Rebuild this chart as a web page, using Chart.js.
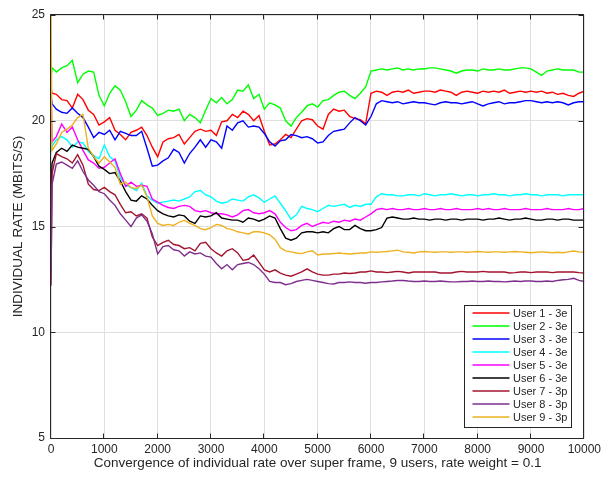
<!DOCTYPE html>
<html>
<head>
<meta charset="utf-8">
<script src="https://cdn.jsdelivr.net/npm/chart.js@4.4.0/dist/chart.umd.min.js"></script>
<style>
  html, body { margin: 0; padding: 0; background: #ffffff; }
  #wrap { width: 605px; height: 477px; }
</style>
</head>
<body>
<div id="wrap"><canvas id="c" width="605" height="477"></canvas></div>
<script>
// Super frame index at which each rate sample is taken
const frames = [0, 20,
  100, 200, 300, 400, 500, 600, 700, 800, 900, 1000,
  1100, 1200, 1300, 1400, 1500, 1600, 1700, 1800, 1900, 2000,
  2100, 2200, 2300, 2400, 2500, 2600, 2700, 2800, 2900, 3000,
  3100, 3200, 3300, 3400, 3500, 3600, 3700, 3800, 3900, 4000,
  4100, 4200, 4300, 4400, 4500, 4600, 4700, 4800, 4900, 5000,
  5100, 5200, 5300, 5400, 5500, 5600, 5700, 5800, 5900, 6000,
  6100, 6200, 6300, 6400, 6500, 6600, 6700, 6800, 6900, 7000,
  7100, 7200, 7300, 7400, 7500, 7600, 7700, 7800, 7900, 8000,
  8100, 8200, 8300, 8400, 8500, 8600, 8700, 8800, 8900, 9000,
  9100, 9200, 9300, 9400, 9500, 9600, 9700, 9800, 9900, 10000];

// Individual rate per user (Mbit/s)
const user1 = [21.5, 21.3,
  21.25, 21.0, 20.95, 20.6, 21.25, 21.0, 20.5, 20.3, 19.8, 19.95,
  20.15, 19.55, 19.35, 19.1, 19.45, 19.55, 19.7, 19.3, 18.75, 18.3,
  19.0, 19.15, 19.2, 19.35, 18.9, 19.2, 19.5, 19.6, 19.5, 19.55,
  19.3, 19.95, 20.0, 20.3, 20.15, 20.45, 20.3, 20.0, 20.25, 19.5,
  18.85, 18.9, 19.1, 19.35, 19.2, 19.6, 20.0, 20.1, 20.05, 19.75,
  19.6, 20.3, 20.55, 20.45, 20.5, 20.2, 20.1, 20.05, 19.85, 21.3,
  21.4, 21.35, 21.2, 21.35, 21.4, 21.35, 21.45, 21.3, 21.35, 21.4,
  21.4, 21.35, 21.45, 21.4, 21.35, 21.2, 21.35, 21.4, 21.35, 21.3,
  21.4, 21.35, 21.4, 21.35, 21.45, 21.3, 21.35, 21.4, 21.35, 21.4,
  21.35, 21.4, 21.3, 21.35, 21.25, 21.3, 21.2, 21.15, 21.3, 21.4];

const user2 = [22.0, 22.5,
  22.3, 22.5, 22.6, 22.85, 21.8, 22.2, 22.35, 22.3, 21.2, 20.7,
  21.3, 21.65, 21.45, 20.9, 20.2, 20.5, 20.95, 20.75, 20.6, 20.25,
  20.35, 20.5, 20.45, 20.55, 20.0, 20.3, 20.15, 19.9, 20.5, 21.05,
  20.85, 21.1, 20.8, 21.0, 21.45, 21.4, 21.7, 21.05, 21.25, 20.55,
  20.85, 20.75, 20.6, 20.0, 19.75, 20.15, 20.4, 20.7, 20.8, 20.65,
  20.95, 21.0, 21.2, 21.35, 21.4, 21.2, 21.05, 21.3, 21.6, 22.35,
  22.4, 22.45, 22.4, 22.45, 22.5, 22.4, 22.45, 22.4, 22.45, 22.45,
  22.5, 22.5, 22.45, 22.4, 22.35, 22.25, 22.35, 22.4, 22.4, 22.35,
  22.45, 22.4, 22.4, 22.45, 22.4, 22.4, 22.45, 22.5, 22.5, 22.45,
  22.3, 22.15, 22.35, 22.4, 22.45, 22.4, 22.4, 22.4, 22.3, 22.3];

const user3 = [21.2, 20.8,
  20.55, 20.4, 20.35, 20.6, 20.35, 20.15, 19.7, 19.2, 19.45, 19.35,
  19.55, 19.1, 19.5, 19.4, 19.3, 19.3, 19.5, 18.7, 17.85, 17.9,
  18.1, 18.25, 18.65, 18.5, 18.0, 18.45, 18.75, 19.1, 18.75, 19.1,
  19.0, 18.7, 19.75, 19.55, 19.9, 20.0, 19.7, 19.75, 19.7, 19.4,
  19.0, 18.8, 19.05, 19.1, 19.35, 19.3, 19.2, 19.25, 19.15, 18.95,
  19.0, 19.3, 19.5, 19.55, 19.6, 19.9, 20.15, 20.0, 19.8, 20.2,
  20.8, 20.95, 20.9, 20.85, 20.9, 20.8, 20.85, 20.9, 20.85, 20.85,
  20.8, 20.75, 20.85, 20.9, 20.85, 20.85, 20.8, 20.85, 20.9, 20.8,
  20.7, 20.8, 20.85, 20.9, 20.8, 20.85, 20.85, 20.9, 20.95, 20.95,
  20.9, 20.85, 20.9, 20.85, 20.9, 20.85, 20.75, 20.85, 20.9, 20.9];

const user4 = [18.5, 18.8,
  19.1, 19.25, 19.1, 18.75, 19.0, 18.95, 18.55, 18.35, 18.2, 18.85,
  18.3, 18.1, 17.3, 16.95, 16.85, 16.7, 17.05, 16.45, 16.25, 16.1,
  16.15, 16.2, 16.25, 16.2, 16.3, 16.4, 16.65, 16.7, 16.5, 16.4,
  16.2, 16.1, 16.15, 16.3, 16.25, 16.2, 16.4, 16.5, 16.35, 16.15,
  16.3, 16.45, 16.1, 15.75, 15.35, 15.55, 15.95, 15.85, 15.8, 15.7,
  15.85, 16.0, 15.95, 16.0, 16.05, 15.9, 16.0, 15.95, 16.05, 16.05,
  16.4, 16.55, 16.5, 16.5, 16.45, 16.45, 16.5, 16.5, 16.45, 16.55,
  16.5, 16.45, 16.5, 16.5, 16.55, 16.5, 16.45, 16.5, 16.5, 16.45,
  16.5, 16.5, 16.55, 16.5, 16.5, 16.45, 16.5, 16.5, 16.55, 16.5,
  16.5, 16.45, 16.5, 16.5, 16.5, 16.45, 16.5, 16.5, 16.5, 16.5];

const user5 = [21.3, 19.0,
  19.25, 19.85, 19.45, 19.7, 19.1, 18.6, 18.15, 18.0, 17.75, 17.8,
  18.0, 18.2, 17.5, 16.9, 17.1, 16.9, 16.95, 16.9, 16.3, 16.15,
  16.0, 15.9, 15.85, 15.95, 16.0, 15.95, 15.75, 15.7, 15.75, 15.65,
  15.6, 15.6, 15.55, 15.45, 15.55, 15.75, 15.8, 15.65, 15.6, 15.65,
  15.75, 15.6, 15.2, 14.95, 14.8, 14.85, 15.05, 15.15, 15.0, 15.1,
  15.2, 15.15, 15.25, 15.2, 15.3, 15.25, 15.35, 15.3, 15.45, 15.6,
  15.8, 15.85, 15.8, 15.85, 15.8, 15.8, 15.85, 15.8, 15.8, 15.85,
  15.8, 15.8, 15.85, 15.8, 15.8, 15.85, 15.8, 15.8, 15.8, 15.85,
  15.8, 15.85, 15.8, 15.8, 15.85, 15.8, 15.8, 15.8, 15.85, 15.8,
  15.8, 15.8, 15.85, 15.8, 15.8, 15.8, 15.85, 15.8, 15.8, 15.85];

const user6 = [16.5, 18.0,
  18.5, 18.7, 18.55, 18.85, 18.75, 18.7, 18.65, 18.3, 17.85, 17.7,
  17.5, 17.55, 17.15, 16.65, 16.25, 16.2, 16.45, 16.3, 16.0, 15.75,
  15.6, 15.5, 15.45, 15.55, 15.5, 15.25, 15.15, 15.5, 15.45, 15.5,
  15.65, 15.4, 15.35, 15.3, 15.3, 15.2, 15.4, 15.35, 15.25, 15.35,
  15.5, 15.4, 14.9, 14.45, 14.35, 14.45, 14.7, 14.75, 14.75, 14.7,
  14.75, 14.7, 14.9, 15.0, 14.85, 14.85, 15.05, 14.9, 14.8, 14.8,
  14.85, 14.95, 15.4, 15.45, 15.4, 15.35, 15.35, 15.4, 15.35, 15.35,
  15.3, 15.35, 15.35, 15.3, 15.35, 15.35, 15.3, 15.35, 15.35, 15.35,
  15.3, 15.35, 15.35, 15.4, 15.35, 15.3, 15.35, 15.35, 15.4, 15.35,
  15.3, 15.3, 15.35, 15.35, 15.3, 15.35, 15.35, 15.3, 15.3, 15.3];

const user7 = [12.2, 17.5,
  18.45, 18.3, 18.2, 18.0, 18.4, 17.9, 17.0, 16.75, 16.7, 16.85,
  16.65, 16.5, 16.05, 15.65, 15.7, 15.5, 15.6, 15.4, 14.5, 14.1,
  14.25, 14.35, 14.15, 14.1, 13.95, 14.0, 13.85, 14.2, 14.25, 13.95,
  13.75, 13.6, 13.85, 13.95, 13.75, 13.4, 13.45, 13.65, 13.3, 12.95,
  12.85, 12.95, 12.8, 12.7, 12.65, 12.75, 12.85, 13.0, 12.85, 12.75,
  12.7, 12.7, 12.75, 12.75, 12.8, 12.78, 12.8, 12.85, 12.85, 12.9,
  12.85, 12.85, 12.82, 12.85, 12.88, 12.85, 12.8, 12.85, 12.85, 12.85,
  12.85, 12.85, 12.8, 12.8, 12.8, 12.85, 12.88, 12.85, 12.85, 12.85,
  12.88, 12.85, 12.85, 12.85, 12.85, 12.8, 12.82, 12.85, 12.85, 12.82,
  12.85, 12.85, 12.85, 12.82, 12.85, 12.85, 12.85, 12.85, 12.82, 12.8];

const user8 = [12.5, 17.0,
  17.95, 18.05, 17.9, 17.75, 18.1, 17.6, 17.2, 16.95, 16.65, 16.55,
  16.25, 16.0, 15.6, 15.3, 15.0, 15.4, 15.55, 15.25, 14.65, 13.7,
  14.05, 14.1, 13.9, 13.85, 13.6, 13.8, 13.7, 13.75, 13.6, 13.55,
  13.25, 13.0, 13.2, 12.95, 13.2, 13.25, 13.3, 13.2, 13.0, 12.75,
  12.4, 12.35, 12.35, 12.25, 12.3, 12.4, 12.45, 12.5, 12.45, 12.4,
  12.35, 12.3, 12.28, 12.35, 12.35, 12.38, 12.35, 12.35, 12.32, 12.35,
  12.35, 12.38, 12.4, 12.42, 12.45, 12.45, 12.42, 12.4, 12.4, 12.42,
  12.4, 12.4, 12.42, 12.4, 12.38, 12.38, 12.4, 12.4, 12.42, 12.4,
  12.4, 12.42, 12.4, 12.4, 12.38, 12.4, 12.42, 12.4, 12.42, 12.42,
  12.4, 12.4, 12.42, 12.4, 12.45, 12.48, 12.5, 12.55, 12.45, 12.4];

const user9 = [25.0, 18.6,
  18.9, 19.45, 19.6, 19.8, 20.15, 20.3, 18.7, 18.3, 18.0, 18.3,
  18.05, 17.8, 17.0, 17.1, 16.85, 16.8, 16.95, 16.4, 15.5, 15.15,
  15.05, 15.1, 15.05, 15.2, 15.3, 15.15, 15.05, 14.9, 14.85, 14.95,
  15.1, 15.05, 14.9, 14.85, 14.75, 14.7, 14.65, 14.75, 14.75, 14.7,
  14.6, 14.4, 14.0, 13.85, 13.8, 13.75, 13.72, 13.8, 13.85, 13.65,
  13.7, 13.7, 13.72, 13.75, 13.72, 13.7, 13.72, 13.75, 13.75, 13.8,
  13.78, 13.8, 13.82, 13.85, 13.88, 13.8, 13.78, 13.75, 13.8, 13.82,
  13.8, 13.78, 13.8, 13.8, 13.78, 13.8, 13.8, 13.78, 13.8, 13.82,
  13.8, 13.78, 13.8, 13.8, 13.78, 13.8, 13.82, 13.8, 13.78, 13.76,
  13.78, 13.8, 13.78, 13.76, 13.78, 13.76, 13.8, 13.84, 13.8, 13.78];

const userLabels = ['User 1 - 3e', 'User 2 - 3e', 'User 3 - 3e', 'User 4 - 3e', 'User 5 - 3e',
                    'User 6 - 3e', 'User 7 - 3p', 'User 8 - 3p', 'User 9 - 3p'];
const userColors = ['#ff0000', '#00ff00', '#0000ff', '#00ffff', '#ff00ff',
                    '#000000', '#a2142f', '#7e2f8e', '#edb120'];
const userSeries = [user1, user2, user3, user4, user5, user6, user7, user8, user9];

const xTickValues = [0, 1000, 2000, 3000, 4000, 5000, 6000, 7000, 8000, 9000, 10000];
const yTickValues = [5, 10, 15, 20, 25];

const FONT = "'Liberation Sans', Arial, Helvetica, sans-serif";
const INK = '#262626';

// Box around the axes with inward tick marks on all four sides
const axesFrame = {
  id: 'axesFrame',
  afterDatasetsDraw(chart) {
    const { ctx, chartArea: a, scales } = chart;
    const L = Math.round(a.left) - 0.5, R = Math.round(a.right) - 0.5;
    const T = Math.round(a.top) - 0.5, B = Math.round(a.bottom) + 0.5;
    const len = 5;
    ctx.save();
    ctx.strokeStyle = INK;
    ctx.lineWidth = 1;
    ctx.beginPath();
    ctx.rect(L, T, R - L, B - T);
    xTickValues.forEach(v => {
      const px = Math.round(scales.x.getPixelForValue(v)) - 0.5;
      ctx.moveTo(px, B); ctx.lineTo(px, B - len);
      ctx.moveTo(px, T); ctx.lineTo(px, T + len);
    });
    yTickValues.forEach(v => {
      const py = Math.round(scales.y.getPixelForValue(v)) + 0.5;
      ctx.moveTo(L, py); ctx.lineTo(L + len, py);
      ctx.moveTo(R, py); ctx.lineTo(R - len, py);
    });
    ctx.stroke();
    ctx.restore();
  }
};

// Boxed legend in the lower right corner of the plot
const boxLegend = {
  id: 'boxLegend',
  afterDraw(chart) {
    const { ctx, chartArea: a } = chart;
    const w = 107, h = 122;
    const x0 = Math.round(a.right - 13 - w) + 0.5;
    const y0 = Math.round(a.bottom - 11 - h) + 0.5;
    ctx.save();
    ctx.fillStyle = '#ffffff';
    ctx.fillRect(x0, y0, w, h);
    ctx.strokeStyle = INK;
    ctx.lineWidth = 1;
    ctx.strokeRect(x0, y0, w, h);
    ctx.font = '11px ' + FONT;
    ctx.textBaseline = 'middle';
    ctx.textAlign = 'left';
    chart.data.datasets.forEach((ds, i) => {
      const yy = y0 + 7.5 + i * 13.05;
      ctx.strokeStyle = ds.borderColor;
      ctx.lineWidth = 1.3;
      ctx.beginPath();
      ctx.moveTo(x0 + 8, Math.round(yy));
      ctx.lineTo(x0 + 45, Math.round(yy));
      ctx.stroke();
      ctx.fillStyle = INK;
      ctx.fillText(ds.label, x0 + 48.5, yy + 0.5);
    });
    ctx.restore();
  }
};

const datasets = userSeries.map((vals, i) => ({
  label: userLabels[i],
  data: frames.map((f, k) => ({ x: f, y: vals[k] })),
  borderColor: userColors[i],
  backgroundColor: userColors[i],
  borderWidth: 1.4,
  pointRadius: 0,
  tension: 0,
  fill: false,
  order: userSeries.length - 1 - i
}));

new Chart(document.getElementById('c'), {
  type: 'line',
  data: { datasets },
  options: {
    responsive: false,
    animation: false,
    devicePixelRatio: 1,
    layout: { padding: { top: 15, right: 18, left: 0, bottom: 0 } },
    plugins: { legend: { display: false }, tooltip: { enabled: false } },
    scales: {
      x: {
        type: 'linear',
        min: 0, max: 10000,
        afterFit(scale) { scale.height = 39; },
        afterBuildTicks(scale) { scale.ticks = xTickValues.map(v => ({ value: v })); },
        ticks: { autoSkip: false, maxRotation: 0, padding: 4, color: INK,
                 font: { family: FONT, size: 12 },
                 callback: v => String(v) },
        grid: { color: '#dfdfdf', lineWidth: 1, drawTicks: false },
        border: { display: false },
        title: { display: true,
                 text: 'Convergence of individual rate over super frame, 9 users, rate weight = 0.1',
                 color: INK, font: { family: FONT, size: 13.5 }, padding: { top: 0, bottom: 6 } }
      },
      y: {
        type: 'linear',
        min: 5, max: 25,
        afterFit(scale) { scale.width = 51; },
        afterBuildTicks(scale) { scale.ticks = yTickValues.map(v => ({ value: v })); },
        ticks: { padding: 6, color: INK, font: { family: FONT, size: 12 },
                 callback: v => String(v) },
        grid: { color: '#dfdfdf', lineWidth: 1, drawTicks: false },
        border: { display: false },
        title: { display: true, text: 'INDIVIDUAL RATE (MBITS/S)',
                 color: INK, font: { family: FONT, size: 13.5 }, padding: { top: 10, bottom: 0 } }
      }
    }
  },
  plugins: [axesFrame, boxLegend]
});
</script>
</body>
</html>
